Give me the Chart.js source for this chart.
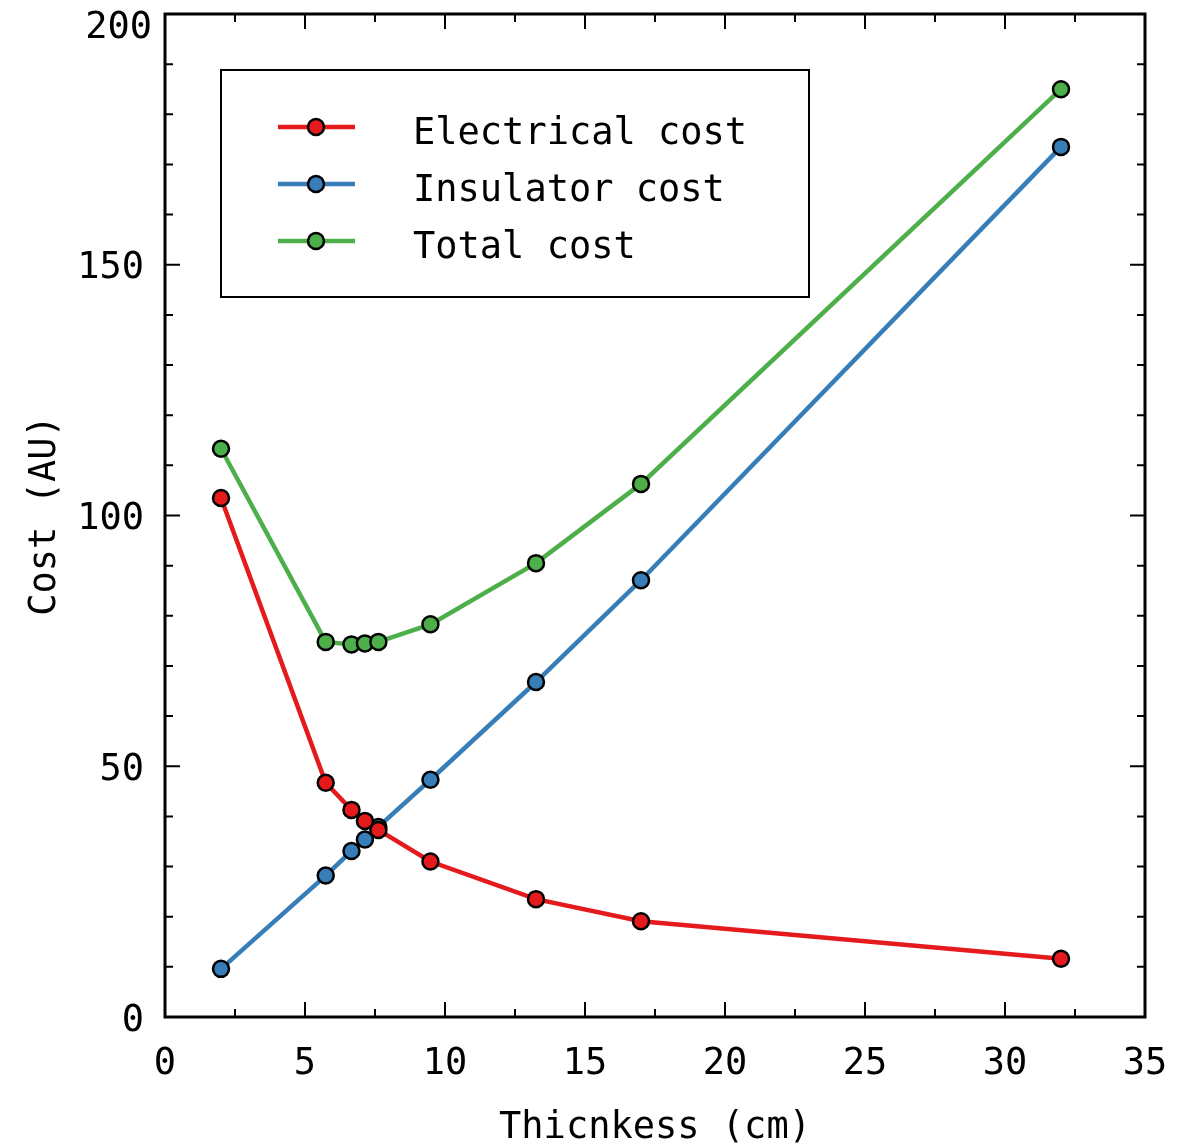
<!DOCTYPE html>
<html>
<head>
<meta charset="utf-8">
<script src="https://cdn.jsdelivr.net/npm/chart.js@4.4.1/dist/chart.umd.min.js"></script>
<style>
  body { margin: 0; background: #fff; }
  #wrap { width: 1181px; height: 1145px; }
</style>
</head>
<body>
<div id="wrap"><canvas id="costChart" width="1181" height="1145"></canvas></div>
<script>
// waarden
const thickness = [2, 5.74, 6.66, 7.14, 7.62, 9.48, 13.25, 17, 32];
const electricalCost = [103.5, 46.7, 41.3, 39.1, 37.3, 31.0, 23.5, 19.1, 11.6];
const insulatorCost = [9.6, 28.2, 33.1, 35.4, 37.9, 47.3, 66.8, 87.1, 173.5];
const totalCost = [113.3, 74.8, 74.3, 74.5, 74.8, 78.3, 90.5, 106.3, 185.0];
const seriesNames = ['Electrical cost', 'Insulator cost', 'Total cost'];
const seriesColors = ['#e41a1c', '#377eb8', '#4daf4a'];
const xTicks = [0, 5, 10, 15, 20, 25, 30, 35];
const yTicks = [0, 50, 100, 150, 200];

const font = "'DejaVu Sans Mono', monospace";

function toPoints(xs, ys) {
  return xs.map((x, i) => ({ x: x, y: ys[i] }));
}

function makeSet(i, values) {
  return {
    label: seriesNames[i],
    data: toPoints(thickness, values),
    borderColor: seriesColors[i],
    backgroundColor: seriesColors[i],
    borderWidth: 4.5,
    pointRadius: 8,
    pointBorderWidth: 2.5,
    pointBorderColor: '#000',
    pointBackgroundColor: seriesColors[i],
    tension: 0
  };
}

// frame + ticks naar binnen + legenda in de grafiek
const framePlugin = {
  id: 'frame',
  afterDraw(chart) {
    const c = chart.ctx;
    const a = chart.chartArea;
    const xs = chart.scales.x;
    const ys = chart.scales.y;
    c.save();
    c.strokeStyle = '#000';
    c.lineWidth = 2;
    for (let v = 0; v <= 35; v += 2.5) {
      const px = xs.getPixelForValue(v);
      const len = v % 5 === 0 ? 15 : 8;
      c.beginPath();
      c.moveTo(px, a.bottom); c.lineTo(px, a.bottom - len);
      c.moveTo(px, a.top); c.lineTo(px, a.top + len);
      c.stroke();
    }
    for (let v = 0; v <= 200; v += 10) {
      const py = ys.getPixelForValue(v);
      const len = v % 50 === 0 ? 15 : 8;
      c.beginPath();
      c.moveTo(a.left, py); c.lineTo(a.left + len, py);
      c.moveTo(a.right, py); c.lineTo(a.right - len, py);
      c.stroke();
    }
    c.lineWidth = 3;
    c.strokeRect(a.left, a.top, a.right - a.left, a.bottom - a.top);

    // bovenste y label zakt iets naar beneden (zoals in het origineel)
    const top = yTicks[yTicks.length - 1];
    c.fillStyle = '#000';
    c.font = '37px ' + font;
    c.textAlign = 'right';
    c.textBaseline = 'middle';
    c.fillText(String(top), a.left - 13, ys.getPixelForValue(top) + 14);

    // legenda
    c.textAlign = 'left';
    c.lineWidth = 2;
    c.strokeRect(221, 70, 588, 227);
    const rows = [127, 184, 241];
    chart.data.datasets.forEach((ds, i) => {
      const y = rows[i];
      c.strokeStyle = ds.borderColor;
      c.lineWidth = 4.5;
      c.beginPath();
      c.moveTo(278, y); c.lineTo(355, y);
      c.stroke();
      c.beginPath();
      c.arc(316, y, 8, 0, Math.PI * 2);
      c.fillStyle = ds.backgroundColor;
      c.fill();
      c.lineWidth = 2.5;
      c.strokeStyle = '#000';
      c.stroke();
      c.fillStyle = '#000';
      c.fillText(ds.label, 413, y + 7);
    });
    c.restore();
  }
};

new Chart(document.getElementById('costChart'), {
  type: 'line',
  data: {
    datasets: [
      makeSet(0, electricalCost),
      makeSet(1, insulatorCost),
      makeSet(2, totalCost)
    ]
  },
  options: {
    responsive: false,
    animation: false,
    layout: { padding: { top: 14, right: 36, bottom: 0, left: 0 } },
    plugins: { legend: { display: false }, tooltip: { enabled: false } },
    scales: {
      x: {
        type: 'linear',
        min: 0, max: 35,
        grid: { display: false },
        border: { display: false },
        afterBuildTicks: s => { s.ticks = xTicks.map(v => ({ value: v })); },
        afterFit: s => { s.height = 128; s.paddingLeft = 0; s.paddingRight = 0; },
        ticks: { color: '#000', padding: 17, maxRotation: 0, font: { family: font, size: 37 } },
        title: { display: true, text: 'Thicnkess (cm)', color: '#000', padding: { top: 0, bottom: -6 }, font: { family: font, size: 37 } }
      },
      y: {
        type: 'linear',
        min: 0, max: 200,
        grid: { display: false },
        border: { display: false },
        afterBuildTicks: s => { s.ticks = yTicks.map(v => ({ value: v })); },
        afterFit: s => { s.width = 165; s.paddingTop = 0; s.paddingBottom = 0; },
        ticks: {
          color: '#000', padding: 13, labelOffset: 4,
          font: { family: font, size: 37 },
          callback: v => (v === yTicks[yTicks.length - 1] ? '' : String(v))
        },
        title: { display: true, text: 'Cost (AU)', color: '#000', padding: { top: 23, bottom: 0 }, font: { family: font, size: 37 } }
      }
    }
  },
  plugins: [framePlugin]
});
</script>
</body>
</html>
